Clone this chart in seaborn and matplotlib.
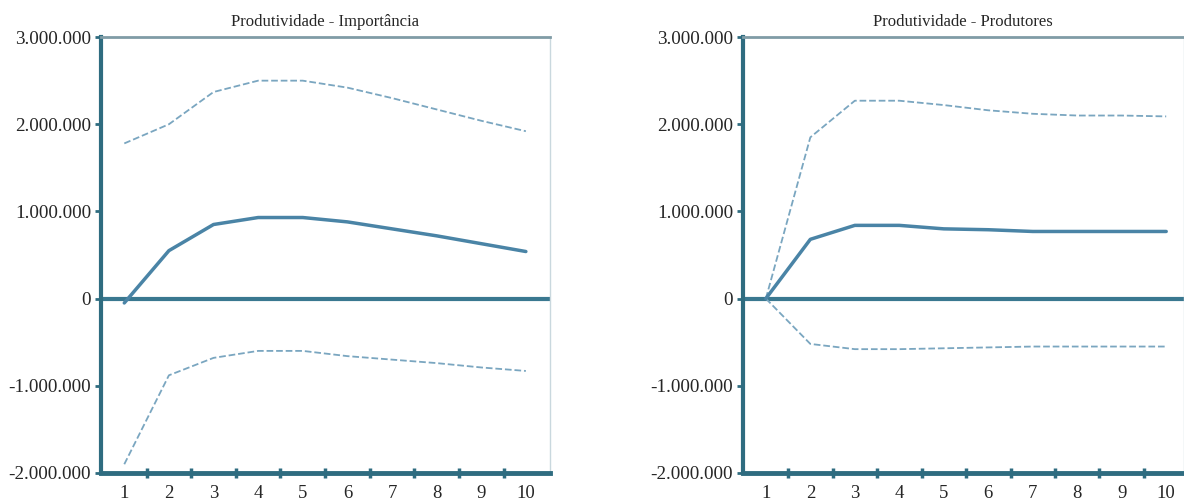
import numpy as np
import pandas as pd
import seaborn as sns
import matplotlib.pyplot as plt
from matplotlib.ticker import FuncFormatter, MultipleLocator

# Periods and responses
periods = [1, 2, 3, 4, 5, 6, 7, 8, 9, 10]

imp_resp = [-50000, 550000, 850000, 930000, 930000, 880000, 800000, 720000, 630000, 540000]
imp_upper = [1780000, 2000000, 2370000, 2500000, 2500000, 2420000, 2300000, 2170000, 2040000, 1920000]
imp_lower = [-1900000, -880000, -680000, -600000, -600000, -660000, -700000, -740000, -790000, -830000]

prod_resp = [0, 680000, 840000, 840000, 800000, 790000, 770000, 770000, 770000, 770000]
prod_upper = [0, 1850000, 2270000, 2270000, 2220000, 2160000, 2120000, 2100000, 2100000, 2090000]
prod_lower = [0, -520000, -580000, -580000, -570000, -560000, -550000, -550000, -550000, -550000]

titles = ["Produtividade - Importância", "Produtividade - Produtores"]

sns.set_style("white")
plt.rcParams['font.family'] = ['Liberation Serif', 'DejaVu Serif']

line_col = "#4a84a6"
band_col = "#7aa6c0"
spine_col = "#2f6c80"

fig = plt.figure(figsize=(11.84, 5.01), dpi=100)
ax1 = fig.add_axes([0.085, 0.056, 0.3795, 0.870])
ax2 = fig.add_axes([0.6273, 0.056, 0.3727, 0.870])

panels = [
    (ax1, imp_resp, imp_upper, imp_lower, (0.47, 10.54)),
    (ax2, prod_resp, prod_upper, prod_lower, (0.48, 10.40)),
]

def fmt(v, pos):
    return f"{int(v):,}".replace(",", ".")

for i, (ax, resp, up, lo, xl) in enumerate(panels):
    df = pd.DataFrame({"periodo": periods, "resp": resp, "up": up, "lo": lo})
    ax.axhline(0, color="#3a7890", lw=3, zorder=1)
    sns.lineplot(data=df, x="periodo", y="up", ax=ax, color=band_col, lw=1.3, linestyle="--")
    sns.lineplot(data=df, x="periodo", y="lo", ax=ax, color=band_col, lw=1.3, linestyle="--")
    sns.lineplot(data=df, x="periodo", y="resp", ax=ax, color=line_col, lw=2.5)

    ax.set_xlim(*xl)
    ax.set_ylim(-2000000, 3000000)
    ax.yaxis.set_major_locator(MultipleLocator(1000000))
    ax.yaxis.set_major_formatter(FuncFormatter(fmt))
    ax.set_xticks(periods)
    ax.set_xticks(np.arange(1.5, 10, 1.0), minor=True)
    ax.tick_params(axis="x", which="major", length=0, labelsize=13.5, pad=9)
    ax.tick_params(axis="x", which="minor", length=7, width=2.5, direction="inout", color=spine_col, bottom=True)
    ax.tick_params(axis="y", which="major", length=4, width=2, direction="out", color=spine_col, labelsize=13.8, pad=3, left=True)
    ax.set_xlabel("")
    ax.set_ylabel("")
    ax.set_title(titles[i], fontsize=12, pad=8)

    ax.spines["left"].set_color(spine_col)
    ax.spines["left"].set_linewidth(3)
    ax.spines["bottom"].set_color(spine_col)
    ax.spines["bottom"].set_linewidth(3.5)
    ax.spines["top"].set_color("#809ca6")
    ax.spines["top"].set_linewidth(2)
    ax.spines["right"].set_color("#c9d8de")
    ax.spines["right"].set_linewidth(1)

fig.savefig("out.png", dpi=100)
